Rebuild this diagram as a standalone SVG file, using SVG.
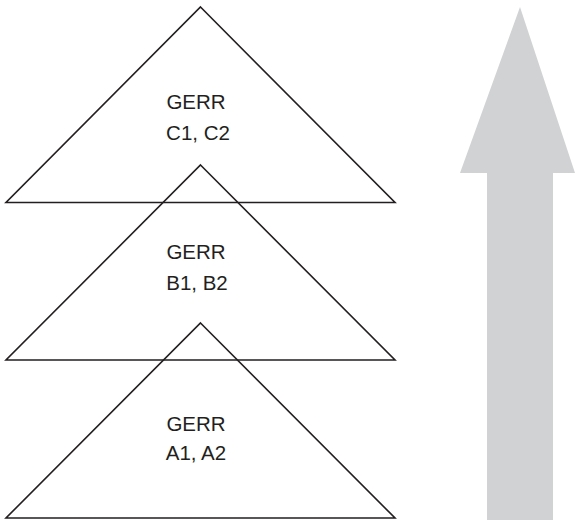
<svg xmlns="http://www.w3.org/2000/svg" width="575" height="520" viewBox="0 0 575 520">
<style>
.tri{fill:none;stroke:#231f20;stroke-width:1.6;stroke-linejoin:miter}
.lbl{font-family:"Liberation Sans",Arial,sans-serif;font-size:20.5px;fill:#231f20;text-anchor:middle}
</style>
<rect width="575" height="520" fill="#ffffff"/>
<g id="arrow">
<polygon points="520,7 575,173 553,173 553,520 487,520 487,173 460,173" fill="#d1d2d4"/>
</g>
<g id="tri-c">
<polygon class="tri" points="200.5,7 395,202.5 6,202.5"/>
<text class="lbl" x="196" y="109">GERR</text>
<text class="lbl" x="198" y="140">C1, C2</text>
</g>
<g id="tri-b">
<polygon class="tri" points="200.5,165 395,360 6,360"/>
<text class="lbl" x="196" y="259">GERR</text>
<text class="lbl" x="197" y="290">B1, B2</text>
</g>
<g id="tri-a">
<polygon class="tri" points="200.5,323 395,518 6,518"/>
<text class="lbl" x="196" y="431">GERR</text>
<text class="lbl" x="196" y="460">A1, A2</text>
</g>
<g id="connectors"></g>
</svg>
